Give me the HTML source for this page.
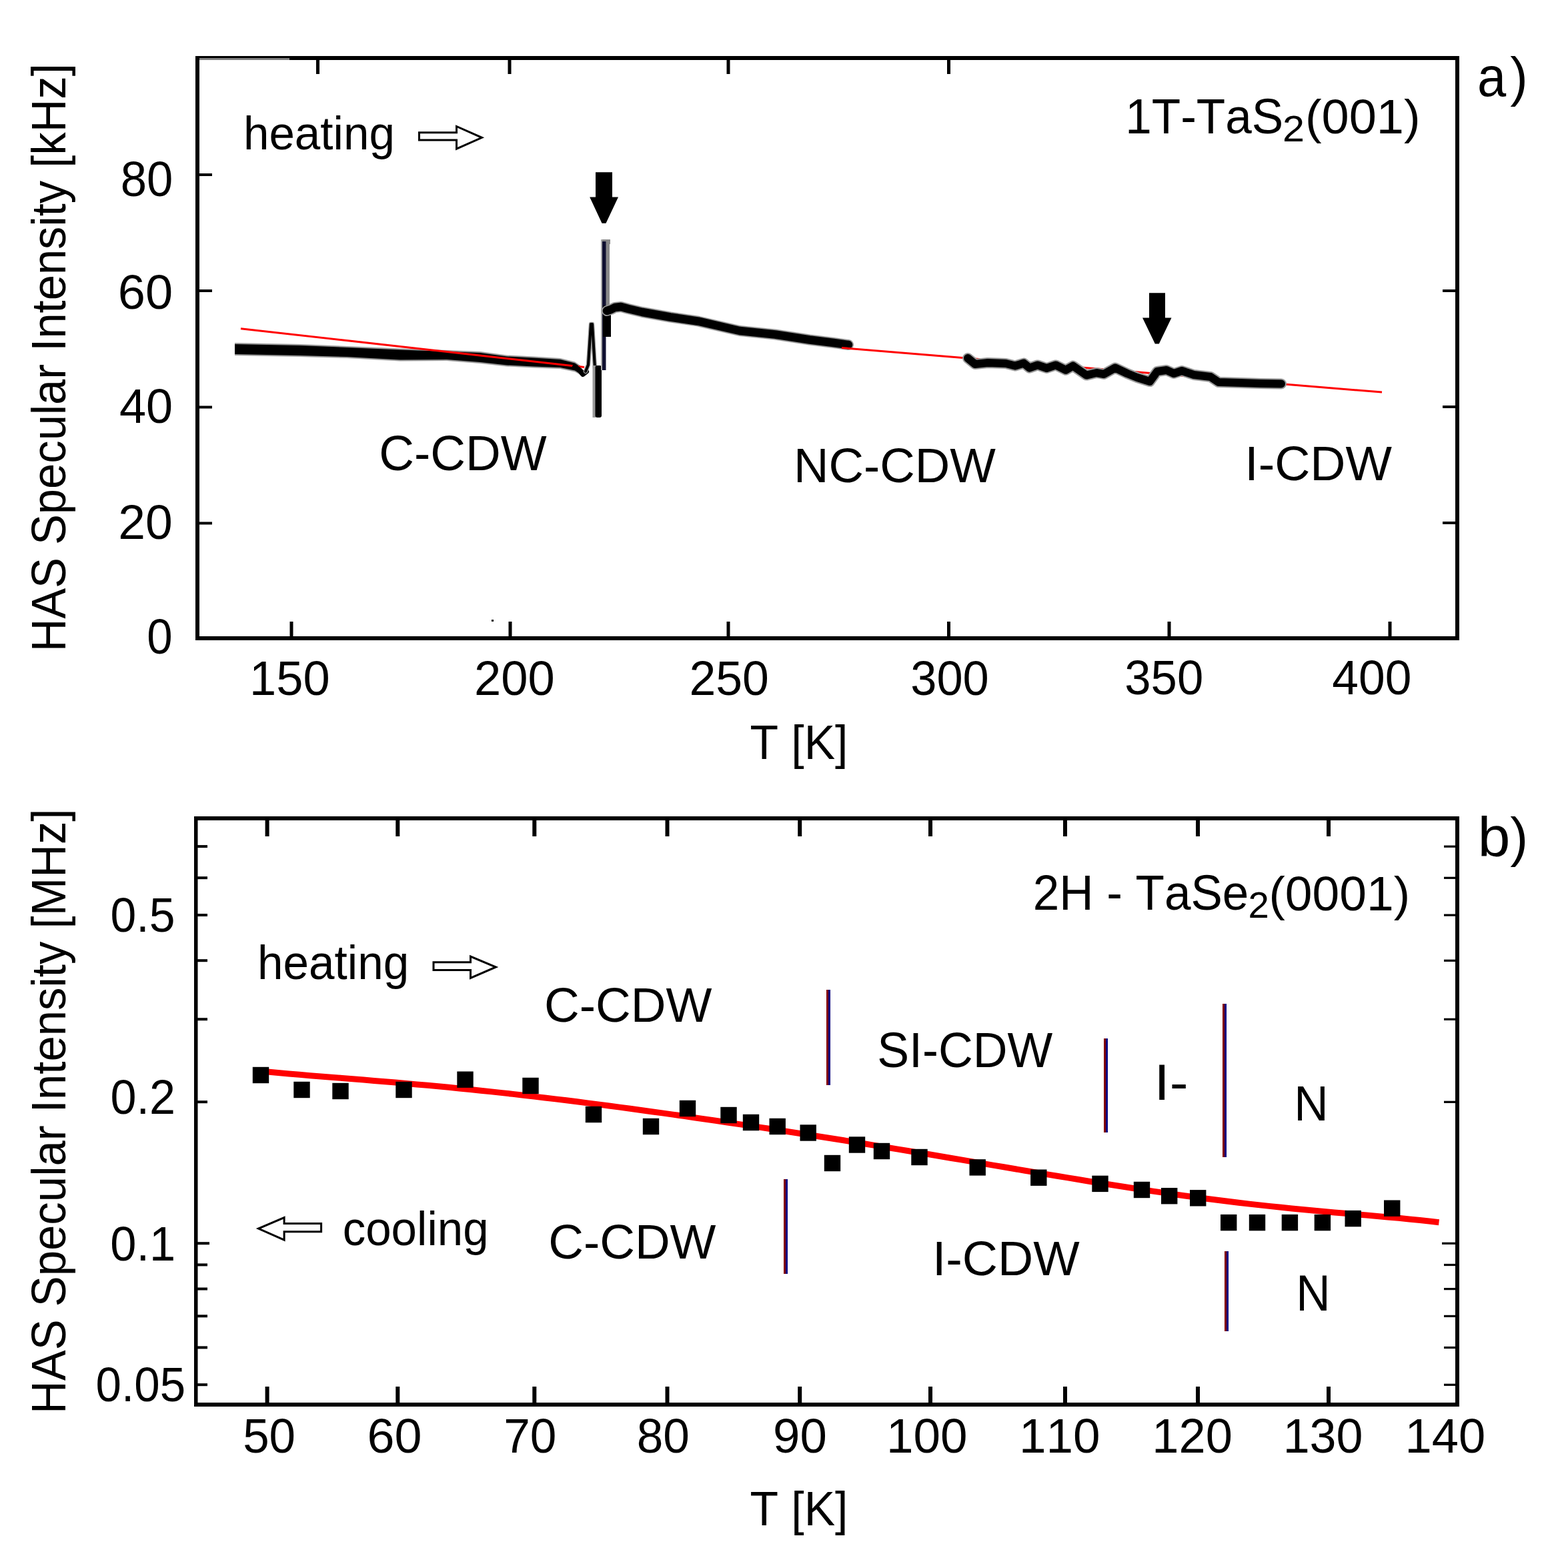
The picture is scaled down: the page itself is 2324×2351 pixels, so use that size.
<!DOCTYPE html>
<html><head><meta charset="utf-8"><title>HAS specular intensity vs temperature</title>
<style>
html,body{margin:0;padding:0;background:#fff;overflow:hidden;width:2324px;height:2351px;}
svg{display:block;}
text{font-family:"Liberation Sans",Arial,Helvetica,sans-serif;fill:#000;font-kerning:none;}
</style></head><body>
<svg width="2324" height="2351" viewBox="0 0 2324 2351">
<rect width="2324" height="2351" fill="#fff"/>
<polygon points="628.5,198.7 684.5,198.7 684.5,189.5 722.5,206.3 684.5,223.2 684.5,210.0 628.5,210.0" fill="#fff" stroke="#000" stroke-width="3"/>
<polygon points="650.0,1442.8 705.5,1442.8 705.5,1434.0 743.5,1450.0 705.5,1466.5 705.5,1454.6 650.0,1454.6" fill="#fff" stroke="#000" stroke-width="3"/>
<polygon points="481.6,1834.6 426.1,1834.6 426.1,1825.6 387.5,1842.0 426.1,1859.2 426.1,1846.7 481.6,1846.7" fill="#fff" stroke="#000" stroke-width="3"/>
<polygon points="893.0,258.2 918.0,258.2 918.0,295.5 927.0,295.5 908.5,334.8 902.5,334.8 884.2,295.5 893.0,295.5" fill="#000"/>
<polygon points="1723.0,439.3 1747.0,439.3 1747.0,476.5 1756.5,476.5 1737.8,515.4 1731.8,515.4 1713.0,476.5 1723.0,476.5" fill="#000"/>
<polygon points="352.0,514.0 400.0,515.0 450.0,516.0 520.0,519.0 600.0,522.5 670.0,525.0 720.0,527.0 760.0,532.5 800.0,534.5 840.0,537.0 862.0,542.5 870.0,548.0 870.0,562.0 862.0,557.5 840.0,553.0 800.0,551.5 760.0,549.5 720.0,545.0 670.0,541.0 600.0,541.5 520.0,537.0 450.0,535.0 400.0,534.0 352.0,533.0" fill="#9a9a9a"/>
<polygon points="352.0,516.0 400.0,517.0 450.0,518.0 520.0,521.0 600.0,524.5 670.0,527.0 720.0,529.0 760.0,534.5 800.0,536.5 840.0,539.0 862.0,544.5 870.0,550.0 870.0,560.0 862.0,555.5 840.0,551.0 800.0,549.5 760.0,547.5 720.0,543.0 670.0,539.0 600.0,539.5 520.0,535.0 450.0,533.0 400.0,532.0 352.0,531.0" fill="#000"/>
<line x1="361" y1="492.7" x2="876" y2="550.5" stroke="#f00" stroke-width="3"/>
<polyline points="862.0,550.0 870.0,556.0 874.0,561.0 879.0,557.0" fill="none" stroke="#000" stroke-width="8" stroke-linejoin="round" stroke-linecap="round"/>
<polyline points="878.0,557.0 882.0,547.0 886.0,486.0 888.0,486.0 892.0,552.0" fill="none" stroke="#9a9a9a" stroke-width="6.5" stroke-linejoin="round" stroke-linecap="round"/>
<polyline points="878.0,557.0 882.0,547.0 886.0,486.0 888.0,486.0 892.0,552.0" fill="none" stroke="#000" stroke-width="4" stroke-linejoin="round" stroke-linecap="round"/>
<rect x="888.5" y="548" width="5" height="78" fill="#9a9a9a"/>
<rect x="892.5" y="548" width="9.5" height="78" rx="3" fill="#000"/>
<rect x="901" y="359" width="14" height="7" fill="#888"/>
<rect x="908" y="359" width="6" height="106" fill="#888"/>
<rect x="901" y="359" width="2" height="196" fill="#aaa"/>
<rect x="903" y="362" width="5.5" height="193" fill="#101030"/>
<rect x="904" y="458" width="12" height="47" fill="#000"/>
<polyline points="910.0,466.0 916.0,464.0 922.0,461.0 931.0,460.0 942.0,463.0 963.0,468.0 1005.0,475.5 1047.0,481.7 1109.0,496.0 1162.0,501.5 1214.0,509.5 1250.0,514.0 1272.0,517.0" fill="none" stroke="#9a9a9a" stroke-width="16" stroke-linejoin="round" stroke-linecap="round"/>
<polyline points="910.0,466.0 916.0,464.0 922.0,461.0 931.0,460.0 942.0,463.0 963.0,468.0 1005.0,475.5 1047.0,481.7 1109.0,496.0 1162.0,501.5 1214.0,509.5 1250.0,514.0 1272.0,517.0" fill="none" stroke="#000" stroke-width="12.5" stroke-linejoin="round" stroke-linecap="round"/>
<line x1="1262" y1="521.5" x2="2072" y2="588" stroke="#f00" stroke-width="3"/>
<polyline points="1451.0,537.0 1462.0,546.0 1481.0,544.0 1508.0,545.0 1522.0,548.5 1535.0,544.6 1543.5,551.6 1555.7,547.4 1569.3,552.0 1583.0,547.4 1598.0,554.8 1608.8,548.6 1629.0,562.6 1644.0,559.0 1655.0,561.0 1672.0,551.5 1690.0,560.0 1705.0,566.0 1724.0,572.0 1735.0,557.0 1749.0,555.0 1760.0,560.0 1772.0,556.0 1790.0,562.0 1815.0,565.0 1827.0,573.0 1860.0,574.0 1890.0,575.0 1921.0,575.5" fill="none" stroke="#9a9a9a" stroke-width="16" stroke-linejoin="round" stroke-linecap="round"/>
<polyline points="1451.0,537.0 1462.0,546.0 1481.0,544.0 1508.0,545.0 1522.0,548.5 1535.0,544.6 1543.5,551.6 1555.7,547.4 1569.3,552.0 1583.0,547.4 1598.0,554.8 1608.8,548.6 1629.0,562.6 1644.0,559.0 1655.0,561.0 1672.0,551.5 1690.0,560.0 1705.0,566.0 1724.0,572.0 1735.0,557.0 1749.0,555.0 1760.0,560.0 1772.0,556.0 1790.0,562.0 1815.0,565.0 1827.0,573.0 1860.0,574.0 1890.0,575.0 1921.0,575.5" fill="none" stroke="#000" stroke-width="12" stroke-linejoin="round" stroke-linecap="round"/>
<polyline points="385.0,1605.3 401.0,1607.0 417.0,1608.5 433.0,1609.9 449.0,1611.3 465.0,1612.7 481.0,1614.0 497.0,1615.2 513.0,1616.5 529.0,1617.8 545.0,1619.1 561.0,1620.4 577.0,1621.7 593.0,1623.1 609.0,1624.4 625.0,1625.9 641.0,1627.3 657.0,1628.8 673.0,1630.3 689.0,1631.9 705.0,1633.5 721.0,1635.2 737.0,1636.9 753.0,1638.6 769.0,1640.4 785.0,1642.2 801.0,1644.1 817.0,1646.0 833.0,1647.9 849.0,1649.8 865.0,1651.8 881.0,1653.9 897.0,1655.9 913.0,1658.0 929.0,1660.1 945.0,1662.3 961.0,1664.5 977.0,1666.7 993.0,1668.9 1009.0,1671.1 1025.0,1673.4 1041.0,1675.7 1057.0,1678.0 1073.0,1680.3 1089.0,1682.7 1105.0,1685.1 1121.0,1687.4 1137.0,1689.9 1153.0,1692.3 1169.0,1694.7 1185.0,1697.2 1201.0,1699.7 1217.0,1702.2 1233.0,1704.7 1249.0,1707.3 1265.0,1709.8 1281.0,1712.4 1297.0,1715.0 1313.0,1717.6 1329.0,1720.2 1345.0,1722.9 1361.0,1725.5 1377.0,1728.2 1393.0,1730.8 1409.0,1733.5 1425.0,1736.2 1441.0,1738.9 1457.0,1741.6 1473.0,1744.4 1489.0,1747.1 1505.0,1749.8 1521.0,1752.5 1537.0,1755.2 1553.0,1757.9 1569.0,1760.6 1585.0,1763.3 1601.0,1765.9 1617.0,1768.5 1633.0,1771.2 1649.0,1773.7 1665.0,1776.3 1681.0,1778.8 1697.0,1781.3 1713.0,1783.7 1729.0,1786.1 1745.0,1788.4 1761.0,1790.7 1777.0,1793.0 1793.0,1795.1 1809.0,1797.3 1825.0,1799.3 1841.0,1801.3 1857.0,1803.2 1873.0,1805.1 1889.0,1806.9 1905.0,1808.6 1921.0,1810.3 1937.0,1811.9 1953.0,1813.5 1969.0,1815.0 1985.0,1816.4 2001.0,1817.9 2017.0,1819.3 2033.0,1820.7 2049.0,1822.0 2065.0,1823.4 2081.0,1824.9 2097.0,1826.3 2113.0,1827.9 2129.0,1829.5 2145.0,1831.2 2157.5,1832.7" fill="none" stroke="#f00" stroke-width="9" stroke-linejoin="round" stroke-linecap="butt"/>
<rect x="1239.0" y="1484.0" width="3" height="143.0" fill="#800000"/>
<rect x="1242.0" y="1484.0" width="3" height="143.0" fill="#000080"/>
<rect x="1655.0" y="1557.0" width="3" height="141.0" fill="#800000"/>
<rect x="1658.0" y="1557.0" width="3" height="141.0" fill="#000080"/>
<rect x="1833.0" y="1505.0" width="3" height="230.0" fill="#800000"/>
<rect x="1836.0" y="1505.0" width="3" height="230.0" fill="#000080"/>
<rect x="1175.0" y="1768.0" width="3" height="142.0" fill="#800000"/>
<rect x="1178.0" y="1768.0" width="3" height="142.0" fill="#000080"/>
<rect x="1836.0" y="1876.0" width="3" height="120.0" fill="#800000"/>
<rect x="1839.0" y="1876.0" width="3" height="120.0" fill="#000080"/>
<rect x="378.8" y="1599.8" width="24.4" height="24.4" fill="#000"/>
<rect x="440.3" y="1621.8" width="24.4" height="24.4" fill="#000"/>
<rect x="498.3" y="1623.8" width="24.4" height="24.4" fill="#000"/>
<rect x="593.3" y="1621.8" width="24.4" height="24.4" fill="#000"/>
<rect x="685.3" y="1606.5" width="24.4" height="24.4" fill="#000"/>
<rect x="783.3" y="1615.8" width="24.4" height="24.4" fill="#000"/>
<rect x="877.8" y="1658.8" width="24.4" height="24.4" fill="#000"/>
<rect x="963.8" y="1676.8" width="24.4" height="24.4" fill="#000"/>
<rect x="1018.8" y="1649.8" width="24.4" height="24.4" fill="#000"/>
<rect x="1080.3" y="1659.8" width="24.4" height="24.4" fill="#000"/>
<rect x="1113.8" y="1670.8" width="24.4" height="24.4" fill="#000"/>
<rect x="1153.5" y="1676.8" width="24.4" height="24.4" fill="#000"/>
<rect x="1235.8" y="1731.8" width="24.4" height="24.4" fill="#000"/>
<rect x="1199.5" y="1686.3" width="24.4" height="24.4" fill="#000"/>
<rect x="1272.8" y="1704.3" width="24.4" height="24.4" fill="#000"/>
<rect x="1309.8" y="1713.8" width="24.4" height="24.4" fill="#000"/>
<rect x="1366.3" y="1722.8" width="24.4" height="24.4" fill="#000"/>
<rect x="1453.5" y="1738.2" width="24.4" height="24.4" fill="#000"/>
<rect x="1545.1" y="1753.5" width="24.4" height="24.4" fill="#000"/>
<rect x="1637.3" y="1762.7" width="24.4" height="24.4" fill="#000"/>
<rect x="1699.8" y="1771.8" width="24.4" height="24.4" fill="#000"/>
<rect x="1741.0" y="1781.0" width="24.4" height="24.4" fill="#000"/>
<rect x="1784.0" y="1784.1" width="24.4" height="24.4" fill="#000"/>
<rect x="1830.0" y="1820.9" width="24.4" height="24.4" fill="#000"/>
<rect x="1872.8" y="1820.9" width="24.4" height="24.4" fill="#000"/>
<rect x="1921.7" y="1820.9" width="24.4" height="24.4" fill="#000"/>
<rect x="1970.7" y="1820.9" width="24.4" height="24.4" fill="#000"/>
<rect x="2016.5" y="1814.9" width="24.4" height="24.4" fill="#000"/>
<rect x="2075.0" y="1799.5" width="24.4" height="24.4" fill="#000"/>
<g fill="#000">
<rect x="293" y="84" width="1895" height="6"/>
<rect x="293" y="84" width="6" height="876"/>
<rect x="2182" y="84" width="6" height="876"/>
<rect x="293" y="954" width="1895" height="6"/>
</g>
<rect x="299" y="87" width="135" height="3" fill="#808080"/>
<rect x="299" y="260.0" width="19" height="4" fill="#000"/>
<rect x="299" y="434.0" width="19" height="4" fill="#000"/>
<rect x="299" y="608.5" width="19" height="4" fill="#000"/>
<rect x="299" y="782.5" width="19" height="4" fill="#000"/>
<rect x="2163" y="434.0" width="19" height="4" fill="#000"/>
<rect x="2163" y="608.0" width="19" height="4" fill="#000"/>
<rect x="2163" y="782.0" width="19" height="4" fill="#000"/>
<rect x="434.5" y="932" width="5" height="22" fill="#000"/>
<rect x="762.5" y="932" width="5" height="22" fill="#000"/>
<rect x="1089.5" y="932" width="5" height="22" fill="#000"/>
<rect x="1420.0" y="932" width="5" height="22" fill="#000"/>
<rect x="1750.5" y="932" width="5" height="22" fill="#000"/>
<rect x="2081.5" y="932" width="5" height="22" fill="#000"/>
<rect x="474.0" y="90" width="5" height="21" fill="#000"/>
<rect x="761.5" y="90" width="5" height="21" fill="#000"/>
<rect x="1089.5" y="90" width="5" height="21" fill="#000"/>
<rect x="1420.0" y="90" width="5" height="21" fill="#000"/>
<rect x="737" y="929" width="3" height="3" fill="#000"/>
<g fill="#000">
<rect x="291" y="1224" width="1897" height="6"/>
<rect x="291" y="1224" width="5.5" height="885"/>
<rect x="2182" y="1224" width="6" height="885"/>
<rect x="291" y="2103" width="1897" height="6"/>
</g>
<rect x="296" y="1267.1" width="15" height="4" fill="#000"/>
<rect x="2165" y="1267.6" width="17" height="3.2" fill="#000"/>
<rect x="296" y="1314.2" width="15" height="4" fill="#000"/>
<rect x="2165" y="1314.7" width="17" height="3.2" fill="#000"/>
<rect x="296" y="1370.0" width="15" height="4" fill="#000"/>
<rect x="2165" y="1370.5" width="17" height="3.2" fill="#000"/>
<rect x="296" y="1438.2" width="15" height="4" fill="#000"/>
<rect x="2165" y="1438.7" width="17" height="3.2" fill="#000"/>
<rect x="296" y="1526.2" width="15" height="4" fill="#000"/>
<rect x="2165" y="1526.7" width="17" height="3.2" fill="#000"/>
<rect x="296" y="1650.2" width="15" height="4" fill="#000"/>
<rect x="2165" y="1650.7" width="17" height="3.2" fill="#000"/>
<rect x="296" y="1862.2" width="18" height="4" fill="#000"/>
<rect x="2162" y="1862.7" width="20" height="3.2" fill="#000"/>
<rect x="296" y="1894.4" width="15" height="4" fill="#000"/>
<rect x="2165" y="1894.9" width="17" height="3.2" fill="#000"/>
<rect x="296" y="1930.5" width="15" height="4" fill="#000"/>
<rect x="2165" y="1931.0" width="17" height="3.2" fill="#000"/>
<rect x="296" y="1971.3" width="15" height="4" fill="#000"/>
<rect x="2165" y="1971.8" width="17" height="3.2" fill="#000"/>
<rect x="296" y="2018.4" width="15" height="4" fill="#000"/>
<rect x="2165" y="2018.9" width="17" height="3.2" fill="#000"/>
<rect x="296" y="2074.2" width="15" height="4" fill="#000"/>
<rect x="2165" y="2074.7" width="17" height="3.2" fill="#000"/>
<rect x="397.6" y="2079" width="6" height="24" fill="#000"/>
<rect x="397.6" y="1230" width="6" height="24" fill="#000"/>
<rect x="593.3" y="2079" width="6" height="24" fill="#000"/>
<rect x="593.3" y="1230" width="6" height="24" fill="#000"/>
<rect x="798.3" y="2079" width="6" height="24" fill="#000"/>
<rect x="798.3" y="1230" width="6" height="24" fill="#000"/>
<rect x="997.5" y="2079" width="6" height="24" fill="#000"/>
<rect x="997.5" y="1230" width="6" height="24" fill="#000"/>
<rect x="1196.2" y="2079" width="6" height="24" fill="#000"/>
<rect x="1196.2" y="1230" width="6" height="24" fill="#000"/>
<rect x="1392.0" y="2079" width="6" height="24" fill="#000"/>
<rect x="1392.0" y="1230" width="6" height="24" fill="#000"/>
<rect x="1594.0" y="2079" width="6" height="24" fill="#000"/>
<rect x="1594.0" y="1230" width="6" height="24" fill="#000"/>
<rect x="1793.0" y="2079" width="6" height="24" fill="#000"/>
<rect x="1793.0" y="1230" width="6" height="24" fill="#000"/>
<rect x="1989.0" y="2079" width="6" height="24" fill="#000"/>
<rect x="1989.0" y="1230" width="6" height="24" fill="#000"/>
<g class="t">
<text transform="translate(97.67,977.34) rotate(-90) scale(0.9490,1)" font-size="72.41">HAS Specular Intensity [kHz]</text>
<text transform="translate(180.63,294.28) scale(0.9625,1)" font-size="73.45">80</text>
<text transform="translate(176.84,462.69) scale(1.0159,1)" font-size="72.88">60</text>
<text transform="translate(178.95,634.09) scale(0.9889,1)" font-size="72.88">40</text>
<text transform="translate(177.31,808.30) scale(1.0178,1)" font-size="72.03">20</text>
<text transform="translate(220.30,980.28) scale(0.9399,1)" font-size="73.45">0</text>
<text transform="translate(374.11,1041.69) scale(0.9908,1)" font-size="73.02">150</text>
<text transform="translate(711.06,1041.79) scale(0.9951,1)" font-size="72.74">200</text>
<text transform="translate(1033.40,1041.79) scale(0.9838,1)" font-size="72.74">250</text>
<text transform="translate(1365.32,1041.79) scale(0.9676,1)" font-size="72.74">300</text>
<text transform="translate(1686.31,1041.29) scale(0.9682,1)" font-size="73.02">350</text>
<text transform="translate(1997.36,1041.29) scale(0.9769,1)" font-size="73.02">400</text>
<text transform="translate(1124.44,1137.78) scale(0.9688,1)" font-size="71.88">T [K]</text>
<text transform="translate(364.90,224.31) scale(0.9770,1)" font-size="70.81">heating</text>
<text transform="translate(1687.25,199.78) scale(0.9587,1)" font-size="74.15">1T-TaS</text>
<text transform="translate(1923.02,211.70) scale(1.0611,1)" font-size="55.85">2</text>
<text transform="translate(1956.91,200.42) scale(1.0224,1)" font-size="72.35">(001)</text>
<text transform="translate(2215.10,143.99) scale(0.9353,1)" font-size="83.05">a</text>
<text transform="translate(2264.33,143.27) scale(0.9730,1)" font-size="81.79">)</text>
<text transform="translate(568.29,704.98) scale(0.9920,1)" font-size="73.59">C-CDW</text>
<text transform="translate(1190.04,723.09) scale(0.9933,1)" font-size="73.16">NC-CDW</text>
<text transform="translate(1866.21,719.89) scale(1.0099,1)" font-size="72.88">I-CDW</text>
<text transform="translate(97.67,2120.05) rotate(-90) scale(0.9517,1)" font-size="72.41">HAS Specular Intensity [MHz]</text>
<text transform="translate(165.48,1397.29) scale(0.9570,1)" font-size="72.88">0.5</text>
<text transform="translate(165.46,1669.99) scale(0.9593,1)" font-size="73.16">0.2</text>
<text transform="translate(165.25,1890.39) scale(0.9658,1)" font-size="73.02">0.1</text>
<text transform="translate(143.60,2101.09) scale(0.9556,1)" font-size="72.32">0.05</text>
<text transform="translate(364.16,2178.29) scale(0.9753,1)" font-size="72.74">50</text>
<text transform="translate(550.46,2178.29) scale(1.0138,1)" font-size="72.74">60</text>
<text transform="translate(755.25,2178.29) scale(0.9793,1)" font-size="72.74">70</text>
<text transform="translate(954.71,2178.29) scale(0.9786,1)" font-size="72.74">80</text>
<text transform="translate(1159.10,2178.29) scale(0.9979,1)" font-size="72.74">90</text>
<text transform="translate(1329.06,2178.29) scale(1.0010,1)" font-size="72.74">100</text>
<text transform="translate(1528.06,2178.29) scale(1.0010,1)" font-size="72.74">110</text>
<text transform="translate(1727.33,2178.29) scale(0.9928,1)" font-size="72.74">120</text>
<text transform="translate(1923.67,2178.29) scale(0.9874,1)" font-size="72.74">130</text>
<text transform="translate(2106.62,2178.29) scale(0.9937,1)" font-size="72.74">140</text>
<text transform="translate(1124.44,2286.68) scale(0.9688,1)" font-size="71.88">T [K]</text>
<text transform="translate(386.10,1468.46) scale(0.9614,1)" font-size="71.99">heating</text>
<text transform="translate(513.67,1867.18) scale(0.9610,1)" font-size="71.88">cooling</text>
<text transform="translate(1548.73,1363.78) scale(0.9635,1)" font-size="73.73">2H - TaSe</text>
<text transform="translate(1871.46,1376.00) scale(1.0049,1)" font-size="56.14">2</text>
<text transform="translate(1902.46,1364.50) scale(1.0107,1)" font-size="72.45">(0001)</text>
<text transform="translate(2215.77,1283.88) scale(1.0435,1)" font-size="83.74">b</text>
<text transform="translate(2264.13,1282.93) scale(0.9791,1)" font-size="82.44">)</text>
<text transform="translate(816.09,1531.99) scale(0.9977,1)" font-size="73.16">C-CDW</text>
<text transform="translate(822.19,1887.39) scale(0.9977,1)" font-size="73.16">C-CDW</text>
<text transform="translate(1315.24,1599.68) scale(0.9693,1)" font-size="74.01">SI-CDW</text>
<text transform="translate(1730.49,1649.30) scale(1.0987,1)" font-size="76.02">I-</text>
<text transform="translate(1940.26,1679.60) scale(0.9518,1)" font-size="74.86">N</text>
<text transform="translate(1943.26,1964.80) scale(0.9463,1)" font-size="75.29">N</text>
<text transform="translate(1397.91,1911.89) scale(1.0080,1)" font-size="73.02">I-CDW</text>
</g>
</svg>
</body></html>
